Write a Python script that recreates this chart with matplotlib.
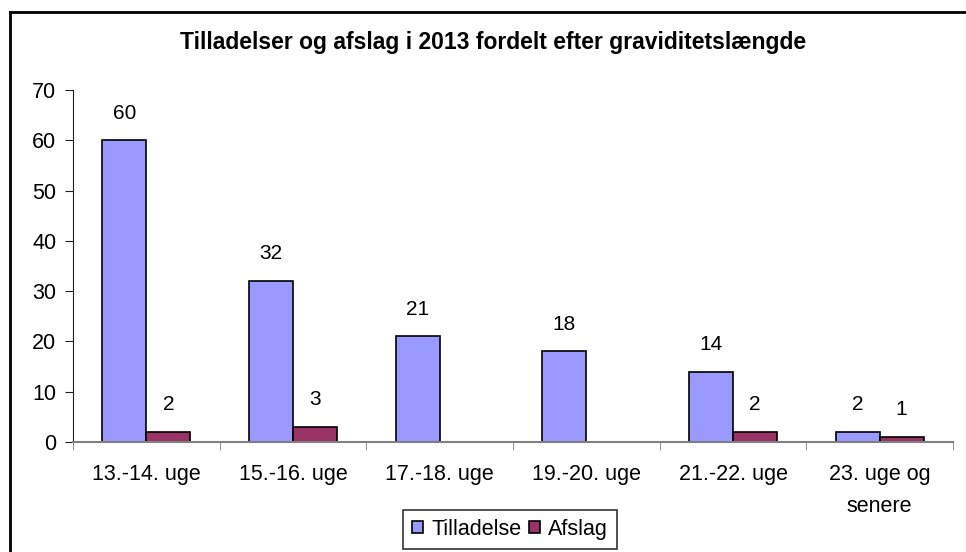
import matplotlib
matplotlib.use("Agg")
import matplotlib.pyplot as plt
import numpy as np
from matplotlib.lines import Line2D

categories = ["13.-14. uge", "15.-16. uge", "17.-18. uge", "19.-20. uge", "21.-22. uge", "23. uge og\nsenere"]
tilladelse = [60, 32, 21, 18, 14, 2]
afslag = [2, 3, 0, 0, 2, 1]
tilladelse_labels = ["60", "32", "21", "18", "14", "2"]
afslag_labels = ["2", "3", "", "", "2", "1"]
yticks = [0, 10, 20, 30, 40, 50, 60, 70]

plt.rcParams['font.family'] = ['Liberation Sans', 'DejaVu Sans']

W, H = 966, 552
fig = plt.figure(figsize=(W/100, H/100), dpi=100)
# outer frame (left and top visible)
fig.lines.append(Line2D([10/W, 10/W], [0, 1-12/H], transform=fig.transFigure, color='black', linewidth=2))
fig.lines.append(Line2D([10/W, 1], [1-12/H, 1-12/H], transform=fig.transFigure, color='black', linewidth=2))

ax = fig.add_axes([73/W, 1-442/H, (953-73)/W, (442-90)/H])
x = np.arange(len(categories))
bw = 0.3
ax.bar(x - bw/2, tilladelse, bw, color='#9999FF', edgecolor='black', linewidth=1.2, label='Tilladelse')
ax.bar(x + bw/2, afslag, bw, color='#993366', edgecolor='black', linewidth=1.2, label='Afslag')

for i in range(len(categories)):
    ax.text(x[i] - bw/2, tilladelse[i] + 3.5, tilladelse_labels[i], ha='center', va='bottom', fontsize=15)
    if afslag_labels[i]:
        ax.text(x[i] + bw/2, afslag[i] + 3.5, afslag_labels[i], ha='center', va='bottom', fontsize=15)

ax.set_xlim(-0.5, len(categories) - 0.5)
ax.set_ylim(0, 70)
ax.set_yticks(yticks)
ax.set_xticks(x)
ax.set_xticklabels(categories, fontsize=15.5, linespacing=1.7)
ax.set_xticks(np.arange(len(categories) + 1) - 0.5, minor=True)
ax.tick_params(axis='x', which='major', length=0, pad=16)
ax.tick_params(axis='x', which='minor', length=6, color='#808080', direction='out')
ax.tick_params(axis='y', labelsize=15.5, length=6, color='#202020', pad=6)
ax.spines['top'].set_visible(False)
ax.spines['right'].set_visible(False)
ax.spines['left'].set_color('#202020')
ax.spines['bottom'].set_color('#808080')
ax.spines['bottom'].set_linewidth(1.5)

fig.text(493/W, 1-43/H, "Tilladelser og afslag i 2013 fordelt efter graviditetslængde",
         ha='center', va='center', fontsize=16.5, fontweight='bold')

leg = fig.legend(loc='center', bbox_to_anchor=(510/W, 1-529.5/H), ncol=2, fontsize=15.5,
                 frameon=True, fancybox=False, edgecolor='black', handlelength=0.5,
                 handleheight=0.5, handletextpad=0.4, columnspacing=0.35, borderpad=0.42)
leg.get_frame().set_linewidth(1.2)

fig.savefig("out.png", dpi=100)
